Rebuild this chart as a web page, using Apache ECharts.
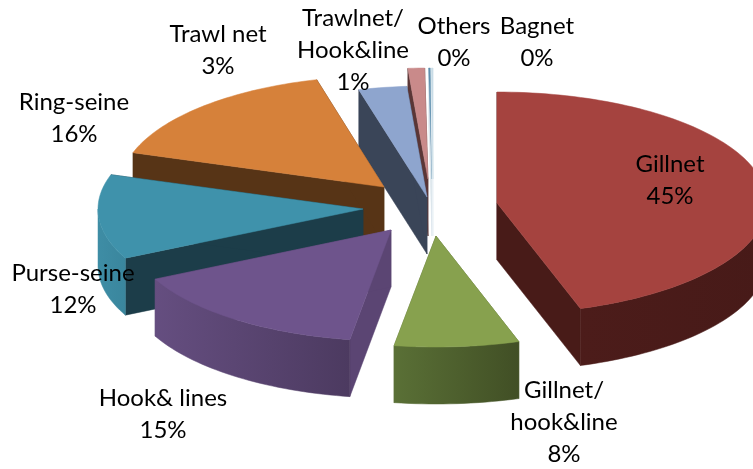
<!DOCTYPE html>
<html><head><meta charset="utf-8">
<style>html,body{margin:0;padding:0;background:#fff}#c{width:753px;height:469px}</style>
<script src="https://cdn.jsdelivr.net/npm/echarts@6/dist/echarts.min.js"></script>
</head><body><div id="c"></div>
<script>
// Data (share of total, %)
var categories = ['Gillnet','Gillnet/\nhook&line','Hook& lines','Purse-seine','Ring-seine','Trawl net','Trawlnet/\nHook&line','Others','Bagnet'];
var shares = [45, 7.5, 15.2, 12.3, 15.9, 2.9, 1.0, 0.1, 0.1];

// Style and layout, per category
var topColors = ['#A5433F','#87A14E','#6E548C','#3F92AB','#D6813A','#8EA5CE','#C98A8A','#5E8FAE','#C9DCE6'];
var cutColors = ['#481B18','#55692F','#5B4573','#1C3D49','#573416','#3A4558','#5A3636','#DCE6EC','#E9F0F4'];
var wallFrom  = ['#4C1C1A','#5A7036','#654E80','#3E8DA5','#573416','#3A4558','#5A3636','#3E6378','#E4EDF2'];
var wallTo    = ['#471A18','#414F25','#4C3A60','#3A869D','#573416','#3A4558','#5A3636','#3E6378','#E4EDF2'];
var explodeX  = [67, 6, -39, -67, -46, -3, -2, 2, 3];
var explodeY  = [-3, 30, 24, 3, -19, -9, -27, -27, -27];
var radiusX   = [270, 268, 263, 265, 264, 268, 268, 268, 268];
var paintRank = [5, 7, 8, 6, 4, 3, 0, 1, 2];
var labelX    = [670, 564, 163, 73, 74, 218, 353, 454, 537];
var labelY    = [180, 422, 414, 289, 118, 50, 50, 42, 42];

var CX = 430, CY = 206, RY = 111, DEPTH = 57;
var total = shares.reduce(function (a, b) { return a + b; }, 0);

function pointAt(cx, cy, rx, deg) {
  var r = deg * Math.PI / 180;
  return [cx + rx * Math.sin(r), cy - RY * Math.cos(r)];
}
function arcPoints(cx, cy, rx, a0, a1) {
  var pts = [], n = Math.max(2, Math.ceil((a1 - a0) / 1.5));
  for (var i = 0; i <= n; i++) pts.push(pointAt(cx, cy, rx, a0 + (a1 - a0) * i / n));
  return pts;
}
function poly(points, fill, z2) {
  return { type: 'polygon', shape: { points: points }, z2: z2,
           style: { fill: fill, stroke: fill, lineWidth: 0.5 } };
}
function face(cx, cy, rx, deg, fill, z2) {
  var p = pointAt(cx, cy, rx, deg);
  return poly([[cx, cy], p, [p[0], p[1] + DEPTH], [cx, cy + DEPTH]], fill, z2);
}

function renderSlice(params, api) {
  var i = params.dataIndex;
  var start = 0;
  for (var k = 0; k < i; k++) start += shares[k];
  var a0 = start / total * 360;
  var a1 = a0 + api.value(0) / total * 360;
  var cx = CX + explodeX[i], cy = CY + explodeY[i], rx = radiusX[i];
  var base = paintRank[i] * 10;
  var children = [
    face(cx, cy, rx, a0, cutColors[i], base),
    face(cx, cy, rx, a1, cutColors[i], base)
  ];
  var w0 = Math.max(a0, 90), w1 = Math.min(a1, 270);
  if (w1 > w0) {
    var rim = arcPoints(cx, cy, rx, w0, w1);
    var lower = rim.slice().reverse().map(function (p) { return [p[0], p[1] + DEPTH]; });
    children.push(poly(rim.concat(lower), {
      type: 'linear', x: 0, y: 0, x2: 1, y2: 0,
      colorStops: [{ offset: 0, color: wallFrom[i] }, { offset: 1, color: wallTo[i] }]
    }, base + 1));
  }
  children.push(poly([[cx, cy]].concat(arcPoints(cx, cy, rx, a0, a1)), topColors[i], base + 2));
  children.push({
    type: 'text', z2: 200, x: labelX[i], y: labelY[i],
    style: {
      text: categories[i] + '\n' + Math.round(api.value(0)) + '%',
      fill: '#000', font: '24px Lato', lineHeight: 32,
      align: 'center', verticalAlign: 'middle'
    }
  });
  return { type: 'group', children: children };
}

var chart = echarts.init(document.getElementById('c'), null, { renderer: 'canvas' });
chart.setOption({
  animation: false,
  backgroundColor: '#fff',
  series: [{
    type: 'custom',
    coordinateSystem: 'none',
    renderItem: renderSlice,
    clip: false,
    silent: true,
    encode: { value: 0 },
    data: shares.map(function (v, i) { return { name: categories[i], value: [v] }; })
  }]
});
</script></body></html>
